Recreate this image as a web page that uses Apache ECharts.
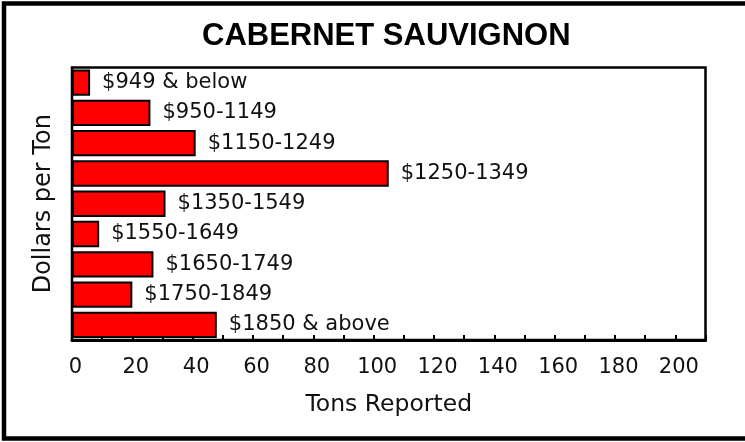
<!DOCTYPE html>
<html>
<head>
<meta charset="utf-8">
<script src="https://cdn.jsdelivr.net/npm/echarts@6/dist/echarts.min.js"></script>
<style>
  html, body { margin: 0; padding: 0; background: #fff; }
  #chart { width: 745px; height: 442px; }
</style>
</head>
<body>
<div id="chart"></div>
<script>
const chartTitle = 'CABERNET SAUVIGNON';
const priceRanges = ['$949 & below', '$950-1149', '$1150-1249', '$1250-1349', '$1350-1549',
                     '$1550-1649', '$1650-1749', '$1750-1849', '$1850 & above'];
const tonsReported = [6, 26, 41, 105, 31, 9, 27, 20, 48];
const xAxisMax = 210;
const xTickStep = 10;
const xLabelStep = 20;
const xLabelMax = 200;
const xAxisTitle = 'Tons Reported';
const yAxisTitle = 'Dollars per Ton';

const chart = echarts.init(document.getElementById('chart'), null, { renderer: 'canvas' });
const FONT = 'DejaVu Sans';

chart.setOption({
  animation: false,
  backgroundColor: '#ffffff',
  title: {
    text: chartTitle,
    left: 202,
    top: 21,
    padding: 0,
    textStyle: { fontFamily: 'Liberation Sans', fontWeight: 'bold', fontSize: 31, color: '#000' }
  },
  graphic: [{
    type: 'rect',
    shape: { x: 4, y: 3.5, width: 800, height: 435 },
    style: { fill: 'none', stroke: '#000', lineWidth: 4.5 },
    silent: true
  }],
  grid: {
    left: 72, right: 39.5, top: 67.5, bottom: 102,
    show: true, borderColor: '#000', borderWidth: 2.5, backgroundColor: 'transparent'
  },
  xAxis: {
    type: 'value',
    min: 0, max: xAxisMax, interval: xTickStep,
    name: xAxisTitle,
    nameLocation: 'middle',
    nameGap: 53,
    nameTextStyle: { fontFamily: FONT, fontSize: 23.5, color: '#111' },
    axisLine: { show: true, lineStyle: { color: '#000', width: 3 } },
    axisTick: { show: true, inside: true, length: 5, lineStyle: { color: '#000', width: 2 } },
    splitLine: { show: false },
    axisLabel: {
      margin: 17,
      padding: [0, 0, 0, 7],
      fontFamily: FONT, fontSize: 21, color: '#111',
      formatter: v => (v % xLabelStep === 0 && v <= xLabelMax) ? String(v) : ''
    }
  },
  yAxis: {
    type: 'category',
    data: priceRanges,
    inverse: true,
    name: yAxisTitle,
    nameLocation: 'middle',
    nameGap: 16,
    nameRotate: 90,
    nameTextStyle: { fontFamily: FONT, fontSize: 24, color: '#111' },
    axisLine: { show: true, lineStyle: { color: '#000', width: 2 } },
    axisTick: { show: false },
    axisLabel: { show: false },
    splitLine: { show: false }
  },
  series: [{
    type: 'bar',
    data: tonsReported,
    barCategoryGap: '13%',
    itemStyle: { color: '#ff0000', borderColor: '#000', borderWidth: 2 },
    label: {
      show: true,
      position: 'right',
      distance: 12,
      fontFamily: FONT, fontSize: 21, color: '#111',
      formatter: p => priceRanges[p.dataIndex]
    }
  }]
});
</script>
</body>
</html>
